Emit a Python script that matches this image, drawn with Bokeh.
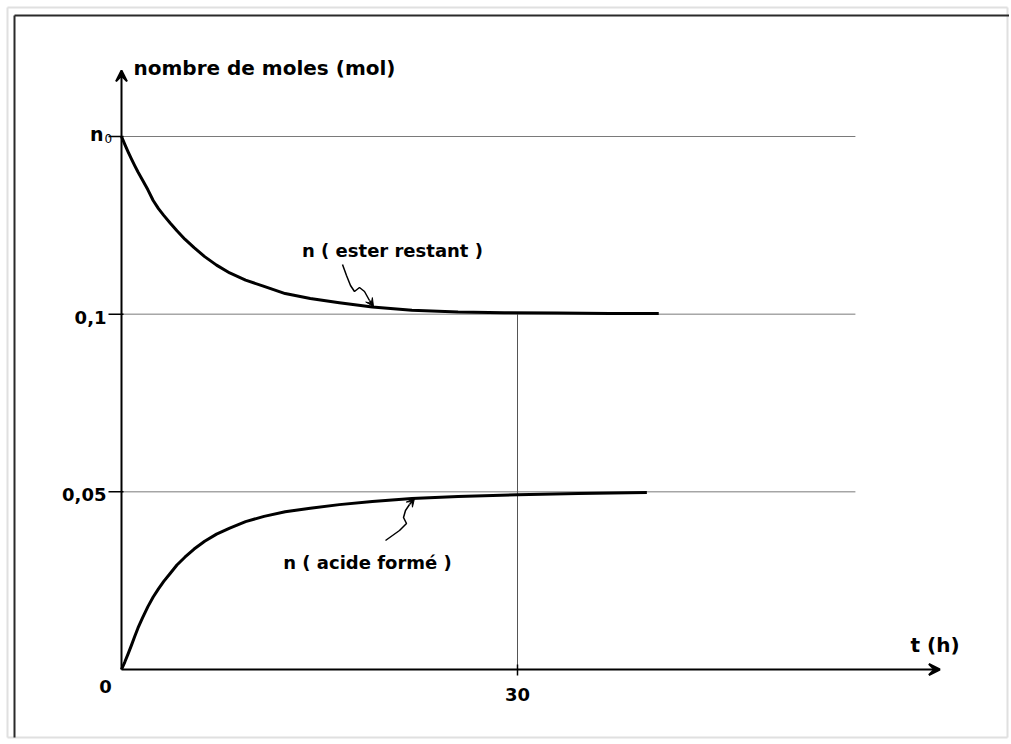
from bokeh.plotting import figure
from bokeh.models import Range1d, Arrow, VeeHead
from bokeh.core.properties import value
from bokeh.embed import file_html
from bokeh.resources import INLINE

# ---------------- data ----------------
t_ester = [0, 0.25, 0.5, 0.75, 1.0, 1.25, 1.6, 2.0, 2.4, 2.8, 3.2, 3.7, 4.2, 4.8, 5.5,
           6.3, 7.2, 8.2, 9.4, 10.8, 12.4, 14.3, 16.5, 19, 22, 25.5, 29, 33, 37, 40.7]
n_ester = [0.15, 0.1478, 0.1457, 0.1437, 0.1418, 0.1400, 0.1377, 0.1350, 0.1320, 0.1297,
           0.1278, 0.1256, 0.1235, 0.1211, 0.1187, 0.1162, 0.1138, 0.1116, 0.1096, 0.1078,
           0.1058, 0.1044, 0.1032, 0.1020, 0.1011, 0.1006, 0.1004, 0.1003, 0.1002, 0.1002]

t_acid = [0, 0.25, 0.5, 0.75, 1.0, 1.25, 1.6, 2.0, 2.4, 2.8, 3.2, 3.7, 4.2, 4.8, 5.5,
          6.3, 7.2, 8.2, 9.4, 10.8, 12.4, 14.3, 16.5, 19, 22, 25.5, 30, 34.6, 39.8]
n_acid = [0, 0.0021, 0.0044, 0.0068, 0.0093, 0.0117, 0.0146, 0.0177, 0.0204, 0.0227,
          0.0248, 0.0271, 0.0294, 0.0316, 0.0339, 0.0361, 0.0381, 0.0398, 0.0416, 0.0431,
          0.0444, 0.0454, 0.0464, 0.0473, 0.0481, 0.0487, 0.0492, 0.0495, 0.0498]

y_levels = [0.05, 0.1, 0.15]
y_labels = ["0,05", "0,1"]
n0_label = ["n", "0"]
x_tick = [30]
x_tick_labels = ["30"]
t_eq = 30
grid_end = 55.6
x_axis_end = 62.0
y_axis_end = 0.1686

# ---------------- layout ----------------
W, H = 1009, 739
X0, PXH = 121, 13.2          # canvas px of t=0, px per hour
Y0, PXU = H - 669, 3553.3    # canvas px (from bottom) of n=0, px per mol


def tx(xp):  # canvas x -> data t
    return (xp - X0) / PXH


def ny(yp):  # canvas y (from top) -> data n
    return (H - yp - Y0) / PXU


p = figure(width=W, height=H, output_backend="svg", toolbar_location=None,
           x_axis_location=None, y_axis_location=None,
           x_range=Range1d(-X0 / PXH, (W - X0) / PXH),
           y_range=Range1d(-Y0 / PXU, (H - Y0) / PXU),
           min_border=0, min_border_left=0, min_border_right=0,
           min_border_top=0, min_border_bottom=0)
p.grid.visible = False
p.outline_line_color = None
p.background_fill_color = "white"
p.border_fill_color = "white"

# outer light box
p.segment(x0=[tx(7), tx(7), tx(7), tx(1007)], y0=[ny(7), ny(737), ny(7), ny(7)],
          x1=[tx(1007), tx(1007), tx(7), tx(1007)], y1=[ny(7), ny(737), ny(737), ny(737)],
          line_color="#e0e0e0", line_width=2)
# inset frame (dark top / left)
p.segment(x0=[tx(14), tx(14)], y0=[ny(15), ny(15)], x1=[tx(W), tx(14)], y1=[ny(15), ny(737)],
          line_color="#2a2a2a", line_width=2)

FONT = value("DejaVu Sans")

# horizontal reference lines
p.segment(x0=[0] * len(y_levels), y0=y_levels, x1=[grid_end] * len(y_levels), y1=y_levels,
          line_color="#7a7a7a", line_width=1)
# vertical at t = 30
p.segment(x0=[t_eq], y0=[0.1], x1=[t_eq], y1=[0], line_color="#555555", line_width=1)

# ticks
p.segment(x0=[tx(108)] * len(y_levels), y0=y_levels, x1=[tx(123)] * len(y_levels), y1=y_levels,
          line_color="black", line_width=1.5)
p.segment(x0=x_tick, y0=[ny(664)], x1=x_tick, y1=[ny(675)], line_color="black", line_width=1.5)

# curves
p.line(t_ester, n_ester, line_color="black", line_width=3, line_join="round")
p.line(t_acid, n_acid, line_color="black", line_width=3, line_join="round")

# axes with arrows
p.add_layout(Arrow(end=VeeHead(size=11, line_color="black", line_width=2),
                   x_start=0, y_start=0, x_end=0, y_end=y_axis_end,
                   line_color="black", line_width=2))
p.add_layout(Arrow(end=VeeHead(size=11, line_color="black", line_width=2),
                   x_start=0, y_start=0, x_end=x_axis_end, y_end=0,
                   line_color="black", line_width=2))

# tick labels
p.text(x=[tx(106)] * 2, y=y_levels[:2], text=y_labels, text_font=FONT,
       text_font_style="bold", text_font_size="18px", text_align="right",
       text_baseline="middle", y_offset=3, text_color="black")
p.text(x=[tx(103)], y=[y_levels[2]], text=[n0_label[0]], text_font=FONT,
       text_font_style="bold", text_font_size="19px", text_align="right",
       text_baseline="middle", y_offset=-3, text_color="black")
p.text(x=[tx(104)], y=[y_levels[2]], text=[n0_label[1]], text_font=FONT,
       text_font_style="normal", text_font_size="12px", text_align="left",
       text_baseline="middle", y_offset=2, text_color="black")
p.text(x=[tx(105)], y=[0], text=["0"], text_font=FONT, text_font_style="bold",
       text_font_size="18px", text_align="center", text_baseline="middle",
       y_offset=17, text_color="black")
p.text(x=x_tick, y=[0], text=x_tick_labels, text_font=FONT, text_font_style="bold",
       text_font_size="18px", text_align="center", text_baseline="middle",
       y_offset=25, text_color="black")

# axis titles
p.text(x=[tx(133)], y=[ny(67)], text=["nombre de moles (mol)"], text_font=FONT,
       text_font_style="bold", text_font_size="20px", text_align="left",
       text_baseline="middle", text_color="black")
p.text(x=[tx(938)], y=[ny(644)], text=["t  (h)"], text_font=FONT,
       text_font_style="bold", text_font_size="20px", text_align="center",
       text_baseline="middle", text_color="black")

# curve labels
p.text(x=[tx(392)], y=[ny(250)], text=["n ( ester restant )"], text_font=FONT,
       text_font_style="bold", text_font_size="18px", text_align="center",
       text_baseline="middle", text_color="black")
p.text(x=[tx(367)], y=[ny(562)], text=["n ( acide formé )"], text_font=FONT,
       text_font_style="bold", text_font_size="18px", text_align="center",
       text_baseline="middle", text_color="black")

# squiggly pointers
sq1 = [(342, 264), (346, 275), (350, 285), (354, 291), (359, 287), (364, 291), (369, 300)]
sq2 = [(385, 540), (399, 530), (406, 523), (403, 517), (405, 510), (409, 504)]
p.line([tx(a) for a, b in sq1], [ny(b) for a, b in sq1], line_color="black", line_width=1.5)
p.line([tx(a) for a, b in sq2], [ny(b) for a, b in sq2], line_color="black", line_width=1.5)
p.add_layout(Arrow(end=VeeHead(size=8, line_color="black", fill_color="black"),
                   x_start=tx(369), y_start=ny(300), x_end=tx(373), y_end=ny(306),
                   line_color="black", line_width=1.5))
p.add_layout(Arrow(end=VeeHead(size=8, line_color="black", fill_color="black"),
                   x_start=tx(409), y_start=ny(504), x_end=tx(414), y_end=ny(498),
                   line_color="black", line_width=1.5))

open("out.html", "w").write(file_html(p, INLINE))
